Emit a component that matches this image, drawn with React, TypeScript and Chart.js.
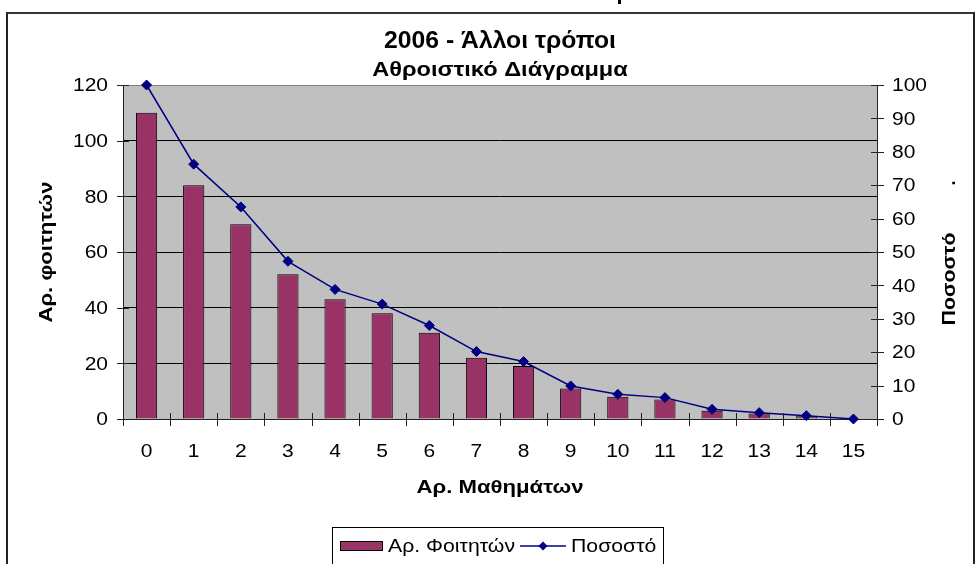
import React, { useEffect, useRef } from 'react';
import { Chart, registerables } from 'chart.js';

Chart.register(...registerables);

const categories = ['0', '1', '2', '3', '4', '5', '6', '7', '8', '9', '10', '11', '12', '13', '14', '15'];
const students = [110, 84, 70, 52, 43, 38, 31, 22, 19, 11, 8, 7, 3, 2, 1, 0];
const percent = [100, 76.3, 63.5, 47.2, 38.8, 34.4, 28, 20.2, 17.2, 9.9, 7.4, 6.4, 2.9, 1.9, 1, 0];
const leftAxis = { min: 0, max: 120, step: 20 };
const rightAxis = { min: 0, max: 100, step: 10 };

const titleText = '2006 - Άλλοι τρόποι';
const subtitleText = 'Αθροιστικό Διάγραμμα';
const xTitle = 'Αρ. Μαθημάτων';
const yTitle = 'Αρ. φοιτητών';
const y1Title = 'Ποσοστό';
const barLabel = 'Αρ. Φοιτητών';
const lineLabel = 'Ποσοστό';

const FONT = '"Liberation Sans", Arial, Helvetica, sans-serif';
const BAR_COLOR = '#993366';
const LINE_COLOR = '#000080';
const PLOT_BG = '#C0C0C0';
const AXIS_COLOR = '#222222';

// draws text widened along its reading direction by factor sx; returns drawn width
function drawText(ctx: any, text: string, x: number, y: number, font: string, sx: number, align: 'left' | 'center' | 'right') {
  ctx.font = font;
  const w = ctx.measureText(text).width * sx;
  const start = align === 'left' ? x : align === 'center' ? x - w / 2 : x - w;
  ctx.save();
  ctx.translate(start, y);
  ctx.scale(sx, 1);
  ctx.textAlign = 'left';
  ctx.textBaseline = 'alphabetic';
  ctx.fillText(text, 0, 0);
  ctx.restore();
  return w;
}

function diamond(ctx: CanvasRenderingContext2D, x: number, y: number, r: number) {
  ctx.beginPath();
  ctx.moveTo(x - r, y);
  ctx.lineTo(x, y - r);
  ctx.lineTo(x + r, y);
  ctx.lineTo(x, y + r);
  ctx.closePath();
  ctx.fill();
}

const TICK_FONT = `17.5px ${FONT}`;
const TICK_SX = 1.2;
const AXIS_TITLE_FONT = `bold 18px ${FONT}`;

const decor = {
  id: 'decor',
  beforeDraw(chart: any) {
    const { ctx, chartArea: a } = chart;
    ctx.save();
    ctx.fillStyle = PLOT_BG;
    ctx.fillRect(a.left, a.top, a.right - a.left, a.bottom - a.top);
    ctx.restore();
  },
  afterDraw(chart: any) {
    const { ctx, chartArea: a } = chart;
    const xs = chart.scales.x;
    const ys = chart.scales.y;
    const y1 = chart.scales.y1;
    ctx.save();
    // crossing tick marks
    ctx.strokeStyle = AXIS_COLOR;
    ctx.lineWidth = 1;
    ctx.beginPath();
    ys.ticks.forEach((_t: any, i: number) => {
      const p = Math.round(ys.getPixelForTick(i)) + 0.5;
      ctx.moveTo(a.left - 6, p);
      ctx.lineTo(a.left + 6, p);
    });
    y1.ticks.forEach((_t: any, i: number) => {
      const p = Math.round(y1.getPixelForTick(i)) + 0.5;
      ctx.moveTo(a.right - 6, p);
      ctx.lineTo(a.right + 7, p);
    });
    const n = categories.length;
    const half = (xs.getPixelForValue(1) - xs.getPixelForValue(0)) / 2;
    for (let i = 0; i <= n; i++) {
      const c = i < n ? xs.getPixelForValue(i) - half : xs.getPixelForValue(n - 1) + half;
      const p = Math.round(c) + 0.5;
      ctx.moveTo(p, a.bottom - 6);
      ctx.lineTo(p, a.bottom + 7);
    }
    ctx.stroke();

    ctx.fillStyle = '#000';
    // tick labels
    ys.ticks.forEach((t: any, i: number) => {
      drawText(ctx, String(t.value), a.left - 15, ys.getPixelForTick(i) + 6.2, TICK_FONT, TICK_SX, 'right');
    });
    y1.ticks.forEach((t: any, i: number) => {
      drawText(ctx, String(t.value), a.right + 15, y1.getPixelForTick(i) + 6.2, TICK_FONT, TICK_SX, 'left');
    });
    categories.forEach((c, i) => {
      drawText(ctx, c, xs.getPixelForValue(i), a.bottom + 38, TICK_FONT, TICK_SX, 'center');
    });

    // titles
    drawText(ctx, titleText, 500, 47.5, `bold 24px ${FONT}`, 1.03, 'center');
    drawText(ctx, subtitleText, 500, 76, `bold 20px ${FONT}`, 1.18, 'center');
    drawText(ctx, xTitle, 500, 493, AXIS_TITLE_FONT, 1.23, 'center');

    // left axis title
    ctx.save();
    ctx.translate(52, (a.top + a.bottom) / 2);
    ctx.rotate(-Math.PI / 2);
    drawText(ctx, yTitle, 0, 0, AXIS_TITLE_FONT, 1.23, 'center');
    ctx.restore();

    // right axis title
    ctx.save();
    ctx.translate(955, 279);
    ctx.rotate(-Math.PI / 2);
    drawText(ctx, y1Title, 0, 0, AXIS_TITLE_FONT, 1.18, 'center');
    drawText(ctx, '.', 96, 0, AXIS_TITLE_FONT, 1, 'center');
    ctx.restore();

    // legend
    ctx.fillStyle = '#fff';
    ctx.fillRect(332, 527, 331, 50);
    ctx.strokeStyle = '#000';
    ctx.lineWidth = 1;
    ctx.strokeRect(332.5, 527.5, 331, 50);
    ctx.fillStyle = BAR_COLOR;
    ctx.fillRect(340.5, 541.5, 42, 9);
    ctx.strokeRect(340.5, 541.5, 42, 9);
    ctx.fillStyle = '#000';
    const legendFont = `18px ${FONT}`;
    const bw = drawText(ctx, barLabel, 388, 552, legendFont, 1.18, 'left');
    const lx = 388 + bw + 5;
    ctx.strokeStyle = LINE_COLOR;
    ctx.lineWidth = 1.5;
    ctx.beginPath();
    ctx.moveTo(lx, 546);
    ctx.lineTo(lx + 46, 546);
    ctx.stroke();
    ctx.fillStyle = LINE_COLOR;
    diamond(ctx, lx + 23, 546, 4.5);
    ctx.fillStyle = '#000';
    drawText(ctx, lineLabel, lx + 51, 552, legendFont, 1.18, 'left');
    ctx.restore();
  },
};

export default function App() {
  const ref = useRef<HTMLCanvasElement>(null);
  useEffect(() => {
    if (!ref.current) return;
    const chart = new Chart(ref.current, {
      type: 'bar',
      data: {
        labels: categories,
        datasets: [
          {
            type: 'line',
            label: lineLabel,
            data: percent,
            borderColor: LINE_COLOR,
            backgroundColor: LINE_COLOR,
            borderWidth: 1.5,
            pointStyle: 'rectRot',
            pointRadius: 5,
            pointBorderWidth: 1,
            pointBackgroundColor: LINE_COLOR,
            pointBorderColor: LINE_COLOR,
            tension: 0,
            yAxisID: 'y1',
            clip: false,
            order: 0,
          } as any,
          {
            type: 'bar',
            label: barLabel,
            data: students,
            backgroundColor: BAR_COLOR,
            borderColor: '#000',
            borderWidth: 1,
            barPercentage: 0.45,
            categoryPercentage: 1,
            yAxisID: 'y',
            order: 1,
          } as any,
        ],
      },
      options: {
        animation: false,
        responsive: false,
        devicePixelRatio: 1,
        layout: { padding: { top: 85, left: 0, right: 0, bottom: 0 } },
        plugins: {
          legend: { display: false },
          title: { display: false },
          tooltip: { enabled: false },
        },
        events: [],
        scales: {
          x: {
            type: 'category',
            offset: true,
            grid: { display: false, drawTicks: false },
            border: { display: true, color: AXIS_COLOR, width: 1 },
            ticks: { display: false, autoSkip: false },
            afterFit: (s: any) => { s.height = 145; },
          },
          y: {
            position: 'left',
            min: leftAxis.min,
            max: leftAxis.max,
            ticks: { stepSize: leftAxis.step, display: false },
            grid: {
              drawTicks: false,
              lineWidth: 1,
              color: (c: any) => (c.tick && c.tick.value === leftAxis.max ? '#808080' : c.tick && c.tick.value === 0 ? 'rgba(0,0,0,0)' : '#000'),
            },
            border: { display: true, color: AXIS_COLOR, width: 1 },
            afterFit: (s: any) => { s.width = 123; },
          },
          y1: {
            position: 'right',
            min: rightAxis.min,
            max: rightAxis.max,
            ticks: { stepSize: rightAxis.step, display: false },
            grid: { display: false, drawTicks: false },
            border: { display: true, color: AXIS_COLOR, width: 1 },
            afterFit: (s: any) => { s.width = 100; },
          },
        },
      },
      plugins: [decor],
    } as any);
    return () => chart.destroy();
  }, []);

  return (
    <div style={{ position: 'fixed', left: 0, top: 0, width: 977, height: 564, background: '#fff', overflow: 'hidden' }}>
      <canvas ref={ref} width={977} height={564} style={{ position: 'absolute', left: 0, top: 0, width: 977, height: 564 }} />
      <div style={{ position: 'absolute', left: 6, top: 12, width: 965, height: 600, borderTop: '2px solid #333', borderLeft: '2px solid #222', borderRight: '2px solid #222', pointerEvents: 'none' }} />
      <div style={{ position: 'absolute', left: 618, top: 0, width: 3, height: 4, background: '#000' }} />
    </div>
  );
}
